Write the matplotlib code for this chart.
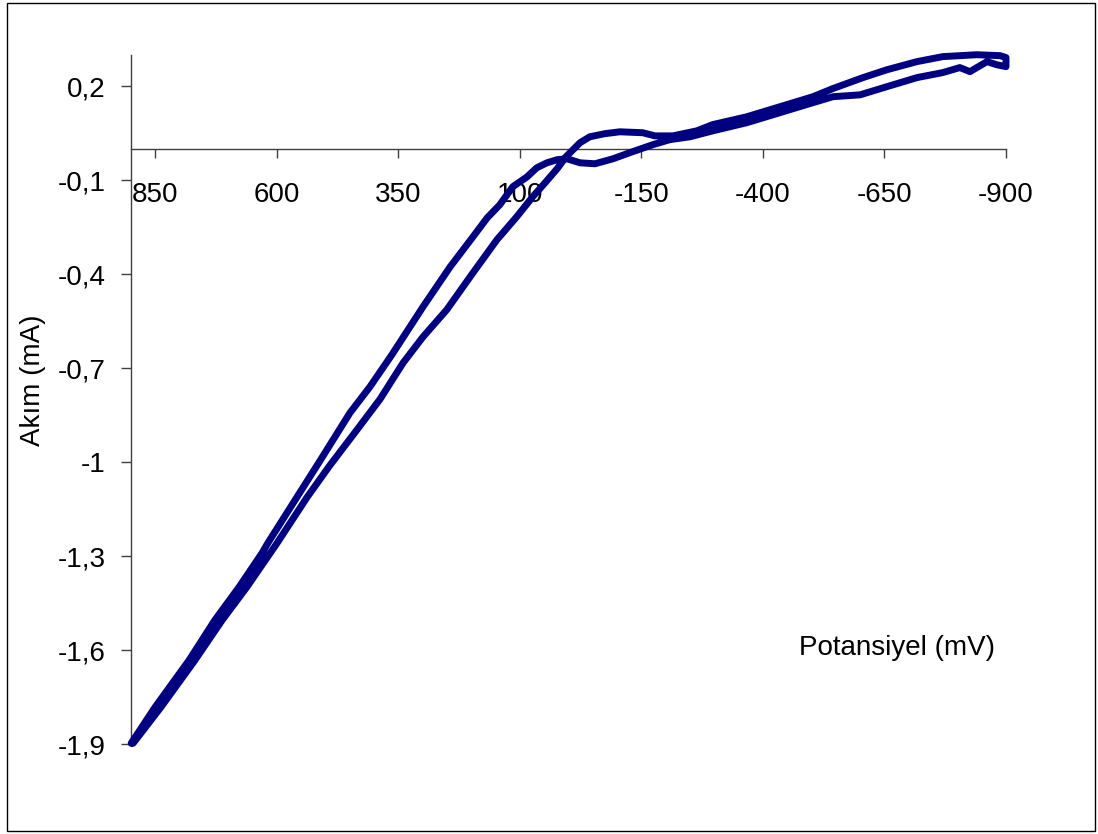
import matplotlib
matplotlib.use("Agg")
import matplotlib.pyplot as plt
from matplotlib.patches import Rectangle
from matplotlib.ticker import FixedLocator

# Forward scan branch (mV, mA)
fwd_potential = [895, 838, 768, 712, 661, 599, 537, 490, 435, 387, 340, 299, 250, 196,
                 147, 106, 73, 48, 23, 5, -24, -44, -75, -106, -153, -178, -215, -264,
                 -297, -367, -435, -503, -544, -606, -655, -717, -770, -840, -888, -900]
fwd_current = [-1.897, -1.782, -1.632, -1.504, -1.398, -1.258, -1.111, -1.009, -0.897,
               -0.798, -0.683, -0.600, -0.513, -0.395, -0.290, -0.216, -0.152, -0.108,
               -0.063, -0.025, 0.020, 0.039, 0.049, 0.055, 0.052, 0.042, 0.042, 0.058,
               0.078, 0.103, 0.135, 0.167, 0.193, 0.228, 0.253, 0.279, 0.295, 0.301,
               0.298, 0.292]

# Reverse scan branch (mV, mA)
rev_potential = [-900, -881, -861, -840, -826, -805, -770, -717, -655, -600, -544, -503,
                 -435, -367, -297, -250, -209, -174, -133, -92, -55, -24, 3, 23, 44, 65,
                 85, 114, 141, 167, 196, 243, 299, 363, 408, 449, 513, 558, 618, 630,
                 677, 727, 780, 850, 899]
rev_current = [0.263, 0.269, 0.279, 0.260, 0.247, 0.260, 0.244, 0.228, 0.199, 0.173,
               0.167, 0.148, 0.116, 0.084, 0.058, 0.039, 0.030, 0.014, -0.008, -0.031,
               -0.047, -0.044, -0.031, -0.034, -0.044, -0.060, -0.089, -0.120, -0.178,
               -0.220, -0.280, -0.376, -0.504, -0.657, -0.759, -0.842, -1.001, -1.111,
               -1.258, -1.290, -1.398, -1.504, -1.632, -1.782, -1.897]

x_ticks = [850, 600, 350, 100, -150, -400, -650, -900]
y_ticks = [-1.9, -1.6, -1.3, -1.0, -0.7, -0.4, -0.1, 0.2]
y_tick_labels = ["-1,9", "-1,6", "-1,3", "-1", "-0,7", "-0,4", "-0,1", "0,2"]

plt.rcParams['font.family'] = ['Liberation Sans', 'DejaVu Sans']

fig = plt.figure(figsize=(10.98, 8.34), dpi=100)
ax = fig.add_axes([0.119, 0.1076, 0.7972, 0.8264])

pot = fwd_potential + rev_potential
cur = fwd_current + rev_current
ax.plot(pot, cur, color='#000080', lw=5, solid_joinstyle='round',
        solid_capstyle='round', clip_on=False, zorder=3)

ax.set_xlim(900, -900)
ax.set_ylim(-1.9, 0.3)

for s in ['top', 'right']:
    ax.spines[s].set_visible(False)
ax.spines['bottom'].set_position(('data', 0))
for s in ['left', 'bottom']:
    ax.spines[s].set_color('#404040')
    ax.spines[s].set_linewidth(1)

ax.xaxis.set_major_locator(FixedLocator(x_ticks))
ax.set_xticklabels([str(v) for v in x_ticks])
ax.yaxis.set_major_locator(FixedLocator(y_ticks))
ax.set_yticklabels(y_tick_labels)

ax.tick_params(axis='x', direction='out', length=6.5, width=1, color='#404040',
               pad=17, labelsize=20, labelcolor='black')
ax.tick_params(axis='y', direction='out', length=7, width=1, color='#404040',
               pad=11, labelsize=20, labelcolor='black')

fig.text(33 / 1098, 1 - 380 / 834, "Akım (mA)", rotation=90, fontsize=20,
         ha='center', va='center')
fig.text(897 / 1098, 1 - 648 / 834, "Potansiyel (mV)", fontsize=20,
         ha='center', va='center')

fig.patches.append(Rectangle((7 / 1098, 1 - 831 / 834), (1095 - 7) / 1098, (831 - 3) / 834,
                             transform=fig.transFigure, fill=False, edgecolor='black',
                             lw=1, zorder=10))

fig.savefig("out.png", dpi=100)
